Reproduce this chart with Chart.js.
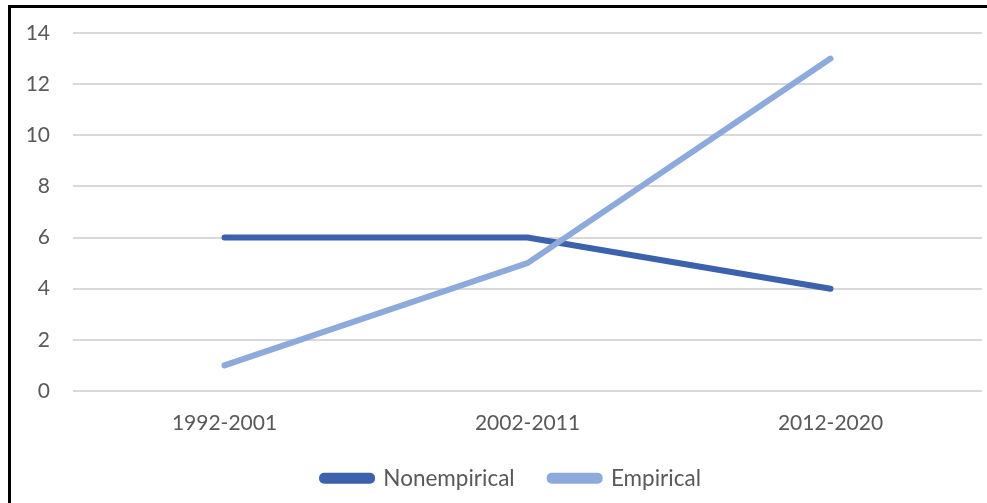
<!DOCTYPE html>
<html lang="en">
<head>
    <meta charset="UTF-8">
    <title>Nonempirical vs Empirical</title>
    <script src="https://cdn.jsdelivr.net/npm/chart.js"></script>
    <style>
        html, body { margin: 0; padding: 0; background: #fff; overflow: hidden; }
        .frame {
            position: absolute; left: 8px; top: 5px; width: 979px; height: 498px;
            border-left: 3px solid #000; border-top: 3px solid #000;
        }
        .frame canvas { display: block; }
    </style>
</head>
<body>
    <div class="frame">
        <canvas id="grafica" width="976" height="495"></canvas>
    </div>
    <script>
        // datos
        const periodos = ["1992-2001", "2002-2011", "2012-2020"];
        const nonempirical = [6, 6, 4];
        const empirical = [1, 5, 13];
        const ticksY = [0, 2, 4, 6, 8, 10, 12, 14];

        const gris = '#595959';
        const fuente = { family: 'Lato', size: 21 };

        // leyenda: alto fijo y pequeño desplazamiento como en el original
        const ajusteLeyenda = {
            id: 'ajusteLeyenda',
            beforeInit(chart) {
                const fit = chart.legend.fit;
                chart.legend.fit = function () {
                    fit.call(this);
                    this.height = 64;
                };
            },
            afterLayout(chart) {
                const l = chart.legend;
                l.top -= 7; l.bottom -= 7;
                l.left += 15; l.right += 15;
            }
        };

        new Chart(document.getElementById('grafica'), {
            type: 'line',
            data: {
                labels: periodos,
                datasets: [{
                    label: 'Nonempirical',
                    data: nonempirical,
                    borderColor: '#3C61AD',
                    backgroundColor: '#3C61AD',
                    borderWidth: 6,
                    borderCapStyle: 'round',
                    pointRadius: 0,
                    order: 1
                }, {
                    label: 'Empirical',
                    data: empirical,
                    borderColor: '#8EA9DB',
                    backgroundColor: '#8EA9DB',
                    borderWidth: 6,
                    borderCapStyle: 'round',
                    pointRadius: 0,
                    order: 0
                }]
            },
            plugins: [ajusteLeyenda],
            options: {
                responsive: false,
                animation: false,
                layout: { padding: { top: 25, right: 5, bottom: 0, left: 0 } },
                plugins: {
                    tooltip: { enabled: false },
                    legend: {
                        position: 'bottom',
                        labels: {
                            color: gris,
                            font: { family: 'Lato', size: 22.5 },
                            boxWidth: 50,
                            boxHeight: 5,
                            padding: 35,
                            useBorderRadius: true,
                            borderRadius: 2,
                            sort: (a, b) => a.datasetIndex - b.datasetIndex
                        }
                    }
                },
                scales: {
                    x: {
                        offset: true,
                        grid: { display: false, drawTicks: false },
                        border: { display: false },
                        ticks: { color: gris, font: fuente, padding: 20 },
                        afterFit: s => { s.height = 48; }
                    },
                    y: {
                        min: ticksY[0],
                        max: ticksY[ticksY.length - 1],
                        afterBuildTicks: s => { s.ticks = ticksY.map(v => ({ value: v })); },
                        grid: { color: '#D9D9D9', lineWidth: 2, drawTicks: false },
                        border: { display: false },
                        ticks: { color: gris, font: fuente, padding: 23 },
                        afterFit: s => { s.width = 62; s.paddingTop = 0; s.paddingBottom = 0; }
                    }
                }
            }
        });
    </script>
</body>
</html>
